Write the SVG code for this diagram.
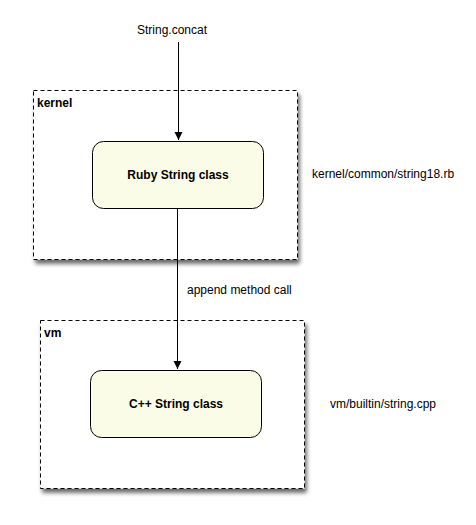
<svg xmlns="http://www.w3.org/2000/svg" width="476" height="525" viewBox="0 0 476 525">
<defs>
<filter id="sh" x="-10%" y="-10%" width="125%" height="130%">
<feGaussianBlur in="SourceAlpha" stdDeviation="2"/>
<feOffset dx="2" dy="4" result="b"/>
<feComponentTransfer><feFuncA type="linear" slope="0.6"/></feComponentTransfer>
<feMerge><feMergeNode/><feMergeNode in="SourceGraphic"/></feMerge>
</filter>
<marker id="ah" markerWidth="10" markerHeight="10" refX="8" refY="4" orient="auto" markerUnits="userSpaceOnUse">
<path d="M0,0 L8,4 L0,8 Z" fill="#000"/>
</marker>
<style>
.grp{fill:#fff;stroke:#000;stroke-width:1;stroke-dasharray:4,3}
.node{fill:#fbfce8;stroke:#000;stroke-width:1}
.t{font-family:"Liberation Sans",Arial,sans-serif;font-size:12px;fill:#000}
.b{font-weight:bold}
.edge{stroke:#000;stroke-width:1;fill:none}
</style>
</defs>
<rect width="476" height="525" fill="#fff"/>
<g id="kernel">
<rect class="grp" x="33.5" y="90.5" width="264" height="169" filter="url(#sh)"/>
<text class="t b" x="37" y="107">kernel</text>
</g>
<g id="vm">
<rect class="grp" x="40.5" y="320.5" width="264" height="168" filter="url(#sh)"/>
<text class="t b" x="44" y="337">vm</text>
</g>
<g id="ruby">
<rect class="node" x="92.5" y="141.5" width="171" height="67" rx="11"/>
<text class="t b" x="178" y="179" text-anchor="middle">Ruby String class</text>
</g>
<g id="cpp">
<rect class="node" x="90.5" y="370.5" width="171" height="67" rx="11"/>
<text class="t b" x="176" y="408" text-anchor="middle">C++ String class</text>
</g>
<g id="labels">
<text class="t" x="172" y="34" text-anchor="middle">String.concat</text>
<text class="t" x="312" y="178">kernel/common/string18.rb</text>
<text class="t" x="187" y="294">append method call</text>
<text class="t" x="330" y="408">vm/builtin/string.cpp</text>
</g>
<g id="connectors">
<line class="edge" x1="178.5" y1="42" x2="178.5" y2="140" marker-end="url(#ah)"/>
<line class="edge" x1="177.5" y1="208" x2="177.5" y2="369" marker-end="url(#ah)"/>
</g>
</svg>
